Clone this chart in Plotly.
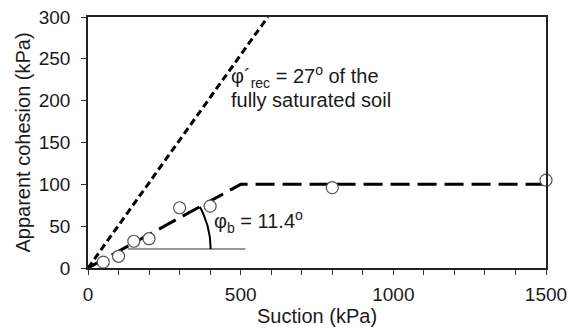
import numpy as np
import plotly.graph_objects as go

# Measured apparent cohesion vs. suction
suction = [50, 100, 150, 200, 300, 400, 800, 1500]
cohesion = [7, 14, 32, 35, 72, 74, 96, 105]

# Bilinear fit (phi_b = 11.4 deg up to the break, then constant)
fit_suction = [0, 500, 1500]
fit_cohesion = [0, 100, 100]

# Saturated friction angle line, phi'_rec = 27 deg
phi_rec_deg = 27
sat_x = [0, 300 / np.tan(np.radians(phi_rec_deg))]
sat_y = [0, 300]

# Horizontal reference for the phi_b angle
ref_x = [130, 516]
ref_y = [22.7, 22.7]

X_MAX, Y_MAX = 1500, 300
L, R, T, B = 88, 22, 17, 61
W, H = 568, 329
PW, PH = W - L - R, H - T - B
sx = PW / X_MAX   # px per kPa (x)
sy = PH / Y_MAX   # px per kPa (y)

# Angle arc between the fit line and the horizontal reference
slope = fit_cohesion[1] / fit_suction[1]
vx = ref_y[0] / slope
vy = ref_y[0]
ang = np.arctan(slope * sy / sx)
r_px = 88
t = np.linspace(0, ang, 40)
arc_x = vx + r_px * np.cos(t) / sx
arc_y = vy + r_px * np.sin(t) / sy

fig = go.Figure()
fig.add_trace(go.Scatter(x=sat_x, y=sat_y, mode="lines",
                         line=dict(color="black", width=3, dash="7px,4px"),
                         hoverinfo="skip"))
fig.add_trace(go.Scatter(x=ref_x, y=ref_y, mode="lines",
                         line=dict(color="#777777", width=1.5), hoverinfo="skip"))
fig.add_trace(go.Scatter(x=arc_x, y=arc_y, mode="lines",
                         line=dict(color="black", width=2), hoverinfo="skip"))
fig.add_trace(go.Scatter(x=fit_suction, y=fit_cohesion, mode="lines",
                         line=dict(color="black", width=3, dash="19px,8px"),
                         hoverinfo="skip"))
fig.add_trace(go.Scatter(x=suction, y=cohesion, mode="markers",
                         marker=dict(size=12, color="white",
                                     line=dict(color="#555555", width=1.2)),
                         cliponaxis=False))

font = dict(family="Liberation Sans, Arial, sans-serif", color="#1a1a1a")

fig.add_annotation(x=463, y=229, xref="x", yref="y", xanchor="left", yanchor="middle",
                   text="φ´<sub>rec</sub> = 27<sup>o</sup> of the", showarrow=False,
                   font=dict(size=20, **font))
fig.add_annotation(x=463, y=201, xref="x", yref="y", xanchor="left", yanchor="middle",
                   text="fully saturated soil", showarrow=False,
                   font=dict(size=20, **font))
fig.add_annotation(x=405, y=55, xref="x", yref="y", xanchor="left", yanchor="middle",
                   text="φ<sub>b</sub> = 11.4<sup>o</sup>", showarrow=False,
                   font=dict(size=20, **font))

# Axis titles
fig.add_annotation(x=0.5, y=(PH - (316 - T)) / PH, xref="paper", yref="paper",
                   xanchor="center", yanchor="middle", showarrow=False,
                   text="Suction (kPa)", font=dict(size=20, **font))
fig.add_annotation(x=(22 - L) / PW, y=0.5, xref="paper", yref="paper",
                   xanchor="center", yanchor="middle", showarrow=False, textangle=-90,
                   text="Apparent cohesion (kPa)", font=dict(size=20, **font))

fig.update_layout(
    width=W, height=H,
    margin=dict(l=L, r=R, t=T, b=B),
    paper_bgcolor="white", plot_bgcolor="white",
    showlegend=False,
    font=dict(size=19, **font),
)
fig.update_xaxes(
    range=[0, X_MAX], dtick=500, tick0=0, automargin=False,
    ticks="outside", ticklen=5, tickwidth=1.2, tickcolor="#333",
    minor=dict(dtick=100, ticks="outside", ticklen=5, tickwidth=1.2, tickcolor="#333"),
    showline=True, linecolor="#222", linewidth=1.5, mirror=True,
    showgrid=False, zeroline=False,
    tickfont=dict(size=19), ticklabelstandoff=3,
)
fig.update_yaxes(
    range=[0, Y_MAX], dtick=50, tick0=0, automargin=False,
    ticks="outside", ticklen=5, tickwidth=1.2, tickcolor="#333",
    showline=True, linecolor="#222", linewidth=1.5, mirror=True,
    showgrid=False, zeroline=False,
    tickfont=dict(size=19), ticklabelstandoff=7,
)

fig.write_html("out.html")
